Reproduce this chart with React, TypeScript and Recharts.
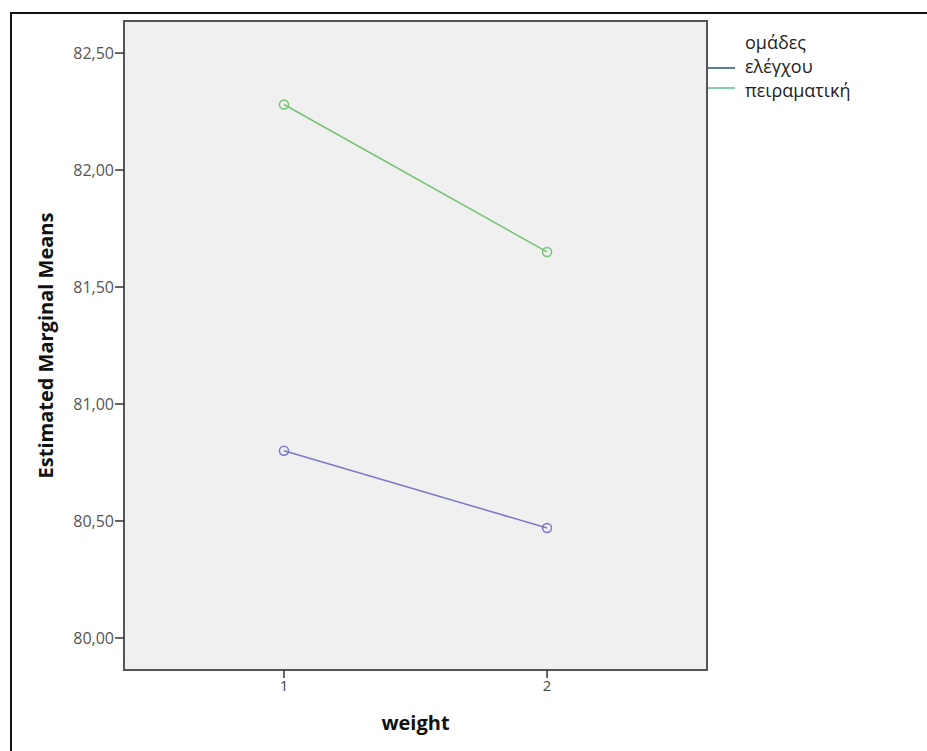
import React from 'react';
import { LineChart, Line, XAxis, YAxis, CartesianGrid, ReferenceArea } from 'recharts';

// weight levels and estimated marginal means per group
const weights = [1, 2];
const elegxou = [80.8, 80.47];
const peiramatiki = [82.28, 81.65];
const yTicks = [80, 80.5, 81, 81.5, 82, 82.5];

const X_DOMAIN: [number, number] = [0.392, 2.608];
const Y_DOMAIN: [number, number] = [79.863, 82.637];

const BLUE = '#7b78c8';
const GREEN = '#74c474';
const FONT = '"Open Sans", "DejaVu Sans", sans-serif';

const data = weights.map((w, i) => ({ weight: w, elegxou: elegxou[i], peiramatiki: peiramatiki[i] }));

const fmt = (v: number) => v.toFixed(2).replace('.', ',');

export default function App() {
  return (
    <div style={{ position: 'absolute', left: 0, top: 0, width: 927, height: 751, background: '#fff', overflow: 'hidden', fontFamily: FONT }}>
      {/* outer frame */}
      <div style={{ position: 'absolute', left: 10, top: 12, width: 940, height: 760, borderLeft: '2px solid #111', borderTop: '2px solid #111' }} />

      <LineChart
        width={927}
        height={751}
        data={data}
        margin={{ top: 21, right: 220, left: 0, bottom: 21 }}
        style={{ position: 'absolute', left: 0, top: 0 }}
      >
        <CartesianGrid horizontal={false} vertical={false} fill="#f0f0f0" />
        <ReferenceArea x1={X_DOMAIN[0]} x2={X_DOMAIN[1]} y1={Y_DOMAIN[0]} y2={Y_DOMAIN[1]} fill="none" stroke="#555" strokeWidth={2} />
        <XAxis
          type="number"
          dataKey="weight"
          domain={X_DOMAIN}
          ticks={weights}
          height={60}
          axisLine={{ stroke: '#555', strokeWidth: 2 }}
          tickLine={{ stroke: '#333', strokeWidth: 1.5 }}
          tickSize={8}
          tickMargin={2}
          tick={{ fill: '#444', fontSize: 15, fontFamily: FONT }}
          label={{ value: 'weight', position: 'insideBottom', offset: 0, fill: '#111', fontSize: 20, fontWeight: 'bold', fontFamily: FONT }}
        />
        <YAxis
          type="number"
          domain={Y_DOMAIN}
          ticks={yTicks}
          width={124}
          tickFormatter={fmt}
          axisLine={{ stroke: '#555', strokeWidth: 2 }}
          tickLine={{ stroke: '#333', strokeWidth: 1.5 }}
          tickSize={9}
          tickMargin={1}
          tick={{ fill: '#555', fontSize: 16, fontFamily: FONT }}
          label={{ value: 'Estimated Marginal Means', angle: -90, position: 'insideLeft', offset: 46, fill: '#111', fontSize: 20, fontWeight: 'bold', fontFamily: FONT, style: { textAnchor: 'middle' } }}
        />
        <Line
          dataKey="elegxou"
          stroke={BLUE}
          strokeWidth={1.5}
          dot={{ r: 4.5, stroke: BLUE, strokeWidth: 1.5, fill: 'none' }}
          isAnimationActive={false}
        />
        <Line
          dataKey="peiramatiki"
          stroke={GREEN}
          strokeWidth={1.5}
          dot={{ r: 4.5, stroke: GREEN, strokeWidth: 1.5, fill: 'none' }}
          isAnimationActive={false}
        />
      </LineChart>

      {/* legend */}
      <div style={{ position: 'absolute', left: 745, top: 30, fontSize: 18, color: '#222', lineHeight: '24px' }}>
        <div>ομάδες</div>
        <div>ελέγχου</div>
        <div>πειραματική</div>
      </div>
      <div style={{ position: 'absolute', left: 708, top: 67, width: 27, height: 1.5, background: '#5f7d8c' }} />
      <div style={{ position: 'absolute', left: 708, top: 87, width: 27, height: 1.5, background: '#86cfa4' }} />
    </div>
  );
}
